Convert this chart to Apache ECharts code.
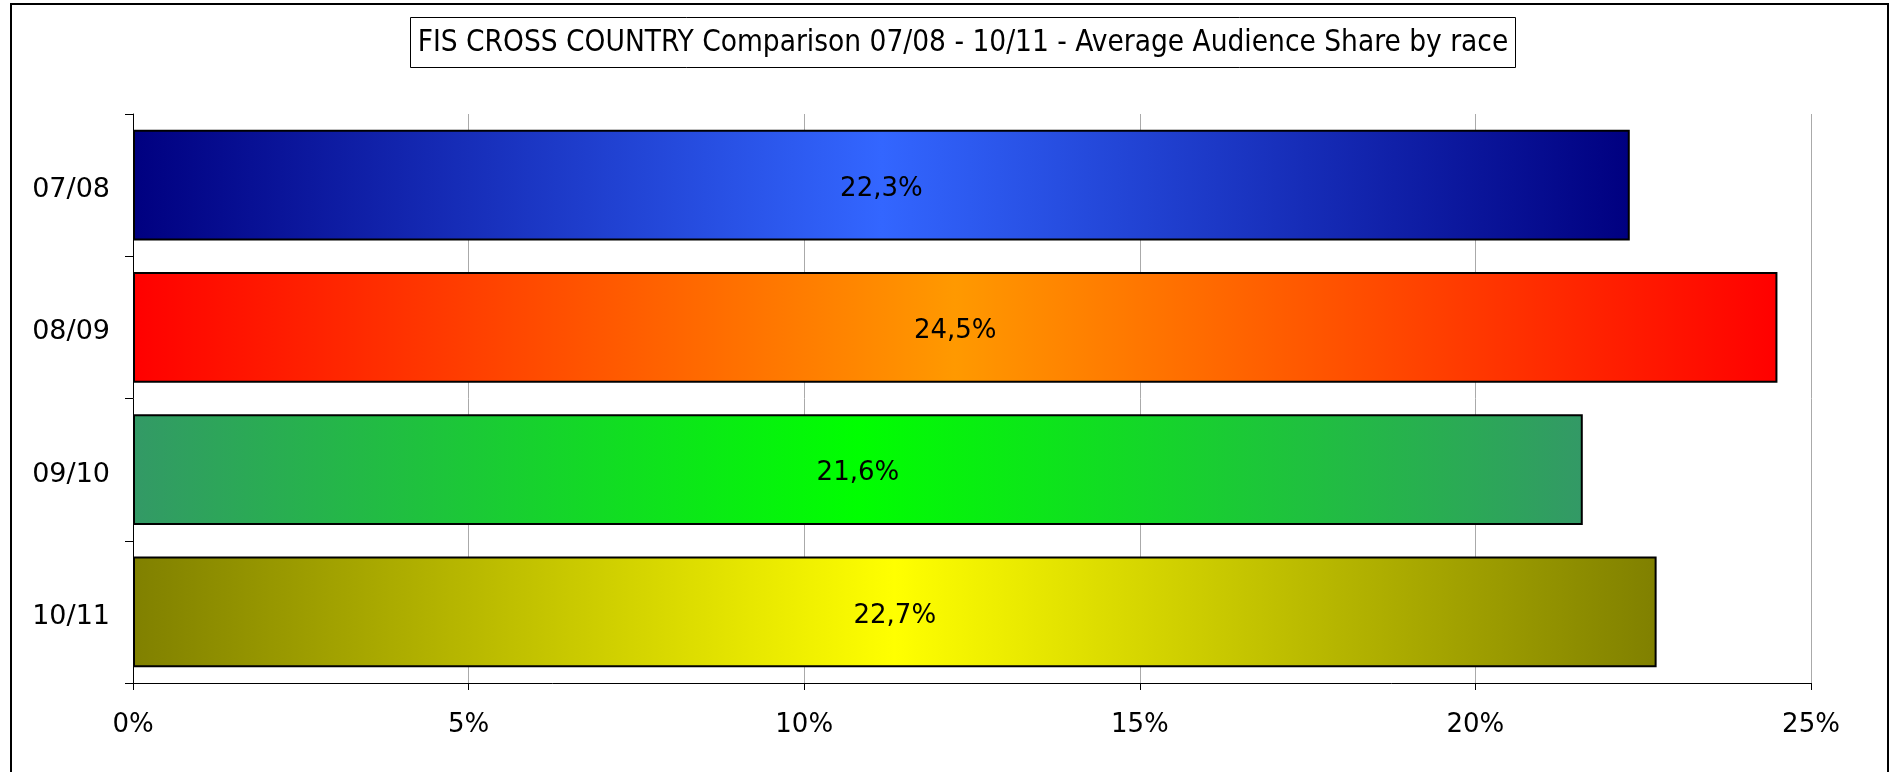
<!DOCTYPE html>
<html>
<head>
<meta charset="utf-8">
<script src="https://cdn.jsdelivr.net/npm/echarts@6/dist/echarts.min.js"></script>
<style>
html,body{margin:0;padding:0;background:#fff;}
#chart{width:1892px;height:772px;}
</style>
</head>
<body>
<div id="chart"></div>
<script>
const titleText = 'FIS CROSS COUNTRY Comparison 07/08 - 10/11 - Average Audience Share by race';
const categories = ['07/08', '08/09', '09/10', '10/11'];
const values = [22.3, 24.5, 21.6, 22.7];
const edgeColors = ['#000080', '#FF0000', '#339966', '#808000'];
const centerColors = ['#3366FF', '#FF9900', '#00FF00', '#FFFF00'];
const xMin = 0, xMax = 25, xStep = 5;

const chart = echarts.init(document.getElementById('chart'), null, {renderer: 'canvas'});

const fmt = v => v.toFixed(1).replace('.', ',') + '%';

const barData = values.map((v, i) => ({
  value: v,
  itemStyle: {
    color: new echarts.graphic.LinearGradient(0, 0, 1, 0, [
      {offset: 0, color: edgeColors[i]},
      {offset: 0.5, color: centerColors[i]},
      {offset: 1, color: edgeColors[i]}
    ])
  }
}));

const option = {
  backgroundColor: '#ffffff',
  animation: false,
  grid: {left: 133, right: 81, top: 114, bottom: 89, containLabel: false},
  graphic: [
    {type: 'rect', z: 0, shape: {x: 11, y: 4, width: 1877, height: 820},
     style: {fill: 'none', stroke: '#000', lineWidth: 2}},
    {type: 'rect', z: 10, shape: {x: 410.5, y: 17.5, width: 1105, height: 50},
     style: {fill: '#fff', stroke: '#000', lineWidth: 1}},
    {type: 'text', z: 11, x: 963, y: 43,
     style: {text: titleText, fill: '#000', font: '29.5px "DejaVu Sans Condensed"',
             textAlign: 'center', textVerticalAlign: 'middle'}}
  ],
  xAxis: {
    type: 'value',
    min: xMin, max: xMax, interval: xStep,
    axisLine: {show: true, lineStyle: {color: '#000', width: 1}},
    axisTick: {show: true, length: 7, lineStyle: {color: '#000'}},
    axisLabel: {formatter: v => v + '%', color: '#000', fontSize: 26,
                fontFamily: 'DejaVu Sans', margin: 29},
    splitLine: {show: true, lineStyle: {color: '#aaaaaa', width: 1}}
  },
  yAxis: {
    type: 'category',
    data: categories,
    inverse: true,
    axisLine: {show: true, lineStyle: {color: '#000', width: 1}},
    axisTick: {show: true, length: 8, alignWithLabel: false, lineStyle: {color: '#000'}},
    axisLabel: {color: '#000', fontSize: 27, fontFamily: 'DejaVu Sans', margin: 23,
                verticalAlign: 'top', lineHeight: 10},
    splitLine: {show: false}
  },
  series: [{
    type: 'bar',
    data: barData,
    barCategoryGap: '22%',
    itemStyle: {borderColor: '#000', borderWidth: 2},
    label: {show: true, position: 'inside', formatter: p => fmt(p.value), offset: [0, 4],
            color: '#000', fontSize: 26, fontFamily: 'DejaVu Sans'}
  }]
};
chart.setOption(option);
</script>
</body>
</html>
